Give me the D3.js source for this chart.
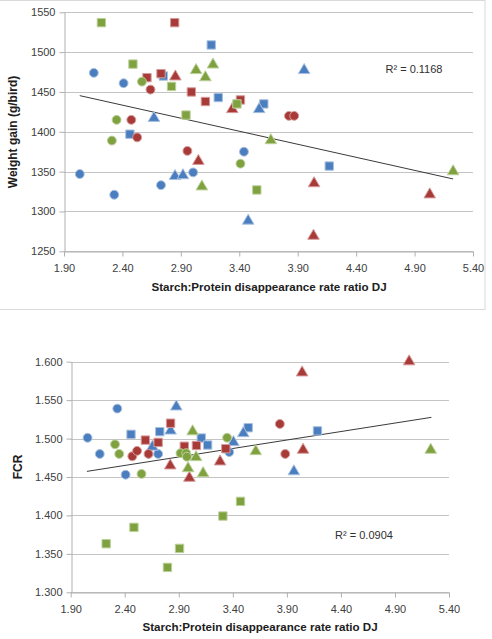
<!DOCTYPE html>
<html>
<head>
<meta charset="utf-8">
<script src="https://cdn.jsdelivr.net/npm/d3@7"></script>
<style>
body{margin:0;background:#fff;}
svg{display:block;font-family:"Liberation Sans",Arial,sans-serif;}
</style>
</head>
<body>
<svg id="c" width="492" height="639"></svg>
<script>
// ---------- DATA ----------
const xTicks = [1.90, 2.40, 2.90, 3.40, 3.90, 4.40, 4.90, 5.40];
const wgTicks = [1250, 1300, 1350, 1400, 1450, 1500, 1550];
const fcrTicks = [1.300, 1.350, 1.400, 1.450, 1.500, 1.550, 1.600];
const xTitle = "Starch:Protein disappearance rate ratio DJ";

// series: colour group + marker shape
const seriesNames = ["Blue circle","Blue square","Blue triangle","Red circle","Red square","Red triangle","Green circle","Green square","Green triangle"];
const seriesColor = ["blue","blue","blue","red","red","red","green","green","green"];
const seriesShape = ["circle","square","triangle","circle","square","triangle","circle","square","triangle"];

// Weight gain (g/bird) : [ratio, value]
const wgBlueCircle   = [[2.155,1474],[2.41,1461],[3.44,1375],[2.035,1347],[3.005,1349],[2.73,1333],[2.33,1321]];
const wgBlueSquare   = [[3.16,1509],[2.75,1470],[3.22,1443],[3.61,1435],[2.464,1397],[4.17,1357]];
const wgBlueTriangle = [[3.57,1429],[2.67,1418],[2.85,1345],[2.918,1346],[3.476,1289],[3.955,1478]];
const wgRedCircle    = [[2.64,1453],[2.476,1415],[2.526,1393],[2.956,1376],[3.825,1420],[3.87,1420]];
const wgRedSquare    = [[2.847,1537],[2.61,1468],[2.73,1473],[2.99,1450],[3.11,1438],[3.41,1440]];
const wgRedTriangle  = [[2.853,1470],[3.34,1429],[3.05,1364],[4.04,1336],[5.03,1322],[4.035,1270]];
const wgGreenCircle  = [[2.567,1463],[2.35,1415],[2.31,1389],[3.41,1360]];
const wgGreenSquare  = [[2.22,1537],[2.49,1485],[2.82,1457],[3.38,1435],[2.944,1421],[3.55,1327]];
const wgGreenTriangle= [[3.03,1478],[3.11,1469],[3.175,1485],[3.08,1332],[3.67,1390],[5.23,1351]];
const wgTrend = [[2.035,1445.4],[5.23,1340.8]];
const wgR2 = "R\u00B2 = 0.1168";

// FCR : [ratio, value]
const fcrBlueCircle   = [[2.056,1.501],[2.169,1.480],[2.331,1.539],[2.408,1.453],[2.709,1.480],[3.367,1.4825]];
const fcrBlueSquare   = [[2.458,1.5055],[2.724,1.509],[3.108,1.5007],[3.167,1.4916],[3.542,1.5141],[4.183,1.510]];
const fcrBlueTriangle = [[2.656,1.490],[2.824,1.511],[2.877,1.5423],[3.406,1.4959],[3.497,1.5076],[3.965,1.458]];
const fcrRedCircle    = [[2.47,1.477],[2.514,1.484],[2.62,1.480],[3.835,1.519],[3.885,1.480]];
const fcrRedSquare    = [[2.591,1.498],[2.709,1.495],[2.824,1.520],[2.951,1.490],[3.063,1.491],[3.335,1.4868]];
const fcrRedTriangle  = [[2.821,1.4656],[2.998,1.4495],[3.282,1.4708],[4.041,1.5866],[4.05,1.486],[5.031,1.601]];
const fcrGreenCircle  = [[2.31,1.4925],[2.349,1.480],[2.555,1.454],[2.916,1.481],[2.969,1.481],[2.975,1.4764],[3.347,1.5011]];
const fcrGreenSquare  = [[2.228,1.3632],[2.485,1.3845],[2.795,1.3324],[2.907,1.3571],[3.308,1.3992],[3.471,1.4183]];
const fcrGreenTriangle= [[2.986,1.462],[3.028,1.510],[3.06,1.4764],[3.125,1.4556],[3.612,1.4842],[5.231,1.486]];
const fcrTrend = [[2.05,1.4573],[5.237,1.5276]];
const fcrR2 = "R\u00B2 = 0.0904";

// ---------- STYLE ----------
const fills   = {blue:"#4A7EBF", red:"#A83A38", green:"#7FA13F"};
const strokes = {blue:"#A9C1E0", red:"#D59C9B", green:"#BCD19A"};
const symbols = {circle:d3.symbolCircle, square:d3.symbolSquare, triangle:d3.symbolTriangle};
const symSize = {circle:62, square:70, triangle:58};

const svg = d3.select("#c");

// faint outer frame of the top chart
svg.append("rect").attr("x",-1).attr("y",0.5).attr("width",486).attr("height",309)
  .attr("fill","none").attr("stroke","#d9d9d9");

function drawChart(cfg){
  const x = d3.scaleLinear().domain([1.9,5.4]).range(cfg.xr);
  const y = d3.scaleLinear().domain(cfg.yd).range(cfg.yr);
  const g = svg.append("g");

  // gridlines
  g.selectAll("line.grid").data(cfg.yTicks).join("line")
    .attr("x1",cfg.xr[0]).attr("x2",cfg.xr[1])
    .attr("y1",d=>Math.round(y(d))+0.5).attr("y2",d=>Math.round(y(d))+0.5)
    .attr("stroke","#c4c4c4").attr("stroke-width",1.2);

  // y axis
  const ya = g.append("g").attr("transform",`translate(${Math.round(cfg.xr[0])+0.5},0)`)
    .call(d3.axisLeft(y).tickValues(cfg.yTicks).tickFormat(cfg.yFmt).tickSize(5).tickSizeOuter(0));
  ya.select(".domain").attr("stroke","#b0b0b0");
  ya.selectAll(".tick line").attr("stroke","#b0b0b0");
  ya.selectAll("text").attr("font-size",11).attr("fill","#404040").attr("dx",-1)
    .attr("font-family","Liberation Sans, Arial, sans-serif");

  // x axis
  const xa = g.append("g").attr("transform",`translate(0,${Math.round(cfg.yr[0])+0.5})`)
    .call(d3.axisBottom(x).tickValues(xTicks).tickFormat(d3.format(".2f")).tickSize(5).tickSizeOuter(0));
  xa.select(".domain").attr("stroke","#b0b0b0");
  xa.selectAll(".tick line").attr("stroke","#b0b0b0");
  xa.selectAll("text").attr("font-size",11).attr("fill","#404040").attr("dy","1.1em")
    .attr("font-family","Liberation Sans, Arial, sans-serif");

  // trend line
  g.append("line")
    .attr("x1",x(cfg.trend[0][0])).attr("y1",y(cfg.trend[0][1]))
    .attr("x2",x(cfg.trend[1][0])).attr("y2",y(cfg.trend[1][1]))
    .attr("stroke","#3a3a3a").attr("stroke-width",1);

  // markers
  cfg.series.forEach((data,i)=>{
    const sh = seriesShape[i], col = seriesColor[i];
    const sym = d3.symbol().type(symbols[sh]).size(symSize[sh]);
    g.append("g").attr("class","series").selectAll("path").data(data).join("path")
      .attr("d",sym)
      .attr("transform",d=>`translate(${x(d[0])},${y(d[1]) + (sh==="triangle"?0.6:0)})`)
      .attr("fill",fills[col]).attr("stroke",strokes[col]).attr("stroke-width",1);
  });

  // R² label
  g.append("text").attr("x",cfg.r2pos[0]).attr("y",cfg.r2pos[1])
    .attr("text-anchor","middle").attr("font-size",11).attr("fill","#303030")
    .text(cfg.r2);

  // axis titles
  g.append("text").attr("x",cfg.xTitlePos[0]).attr("y",cfg.xTitlePos[1])
    .attr("text-anchor","middle").attr("font-size",11.6).attr("font-weight","bold").attr("fill","#202020")
    .text(xTitle);
  g.append("text").attr("transform",`translate(${cfg.yTitlePos[0]},${cfg.yTitlePos[1]}) rotate(-90)`)
    .attr("text-anchor","middle").attr("font-size",12).attr("font-weight","bold").attr("fill","#202020")
    .text(cfg.yTitle);
}

drawChart({
  xr:[64,473], yd:[1250,1550], yr:[251.3,12.3], yTicks:wgTicks, yFmt:d3.format("d"),
  trend:wgTrend, r2:wgR2, r2pos:[414,73],
  series:[wgBlueCircle,wgBlueSquare,wgBlueTriangle,wgRedCircle,wgRedSquare,wgRedTriangle,wgGreenCircle,wgGreenSquare,wgGreenTriangle],
  xTitlePos:[269,291], yTitlePos:[17,132], yTitle:"Weight gain (g/bird)"
});

drawChart({
  xr:[70.7,449], yd:[1.3,1.6], yr:[592.3,361.7], yTicks:fcrTicks, yFmt:d3.format(".3f"),
  trend:fcrTrend, r2:fcrR2, r2pos:[364,539],
  series:[fcrBlueCircle,fcrBlueSquare,fcrBlueTriangle,fcrRedCircle,fcrRedSquare,fcrRedTriangle,fcrGreenCircle,fcrGreenSquare,fcrGreenTriangle],
  xTitlePos:[260,631], yTitlePos:[22,467], yTitle:"FCR"
});
</script>
</body>
</html>
